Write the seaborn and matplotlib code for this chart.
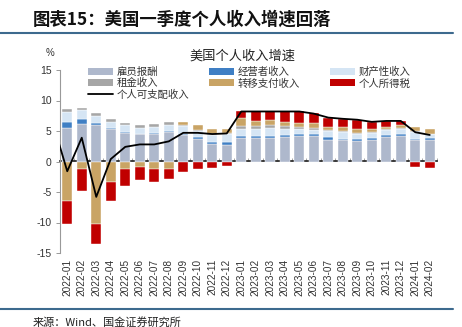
import numpy as np
import pandas as pd
import matplotlib
matplotlib.use("Agg")
import matplotlib.pyplot as plt
from matplotlib.patches import Patch
from matplotlib.lines import Line2D
import seaborn as sns

months = ["2022-01", "2022-02", "2022-03", "2022-04", "2022-05", "2022-06", "2022-07",
          "2022-08", "2022-09", "2022-10", "2022-11", "2022-12", "2023-01", "2023-02",
          "2023-03", "2023-04", "2023-05", "2023-06", "2023-07", "2023-08", "2023-09",
          "2023-10", "2023-11", "2023-12", "2024-01", "2024-02"]

# contributions (percentage points)
compensation = [5.55, 6.2, 5.98, 5.32, 4.73, 4.45, 4.55, 4.9, 4.3, 3.7, 2.9, 2.7, 3.8, 3.8,
                3.85, 4.0, 4.2, 4.2, 3.6, 3.45, 3.35, 3.6, 4.0, 4.15, 3.45, 3.5]
proprietors = [0.92, 0.82, 0.33, 0.1, 0.05, 0.05, 0.05, 0.1, 0.2, 0.3, 0.35, 0.5, 0.35, 0.4,
               0.35, 0.35, 0.3, 0.3, 0.35, 0.3, 0.3, 0.3, 0.3, 0.4, 0.3, 0.4]
property_inc = [1.71, 1.37, 1.2, 1.05, 1.2, 0.95, 1.1, 1.05, 1.3, 0.95, 1.05, 1.3, 1.1, 1.18,
                1.24, 1.04, 0.77, 0.66, 1.0, 1.08, 0.93, 0.78, 0.9, 0.72, 1.08, 0.55]
rental = [0.38, 0.33, 0.38, 0.45, 0.4, 0.6, 0.5, 0.45, 0.25, 0.2, 0.2, 0.2, 0.55, 0.5,
          0.54, 0.43, 0.45, 0.39, 0.15, 0.17, 0.15, 0.15, 0.1, 0.28, 0.17, 0.1]
transfers = [-6.4, -1.15, -10.3, -3.4, -1.3, -0.95, -1.2, -1.15, 0.4, 0.85, 0.9, 0.7, 1.25, 0.72,
             0.82, 0.72, 0.66, 0.71, 0.58, 0.65, 0.66, 0.44, 0.35, 0.38, 0.65, 0.85]
taxes = [-3.9, -3.65, -3.3, -3.0, -2.65, -2.15, -2.15, -1.8, -1.75, -1.3, -1.0, -0.7, 1.15, 1.6,
         1.4, 1.66, 1.82, 1.64, 1.48, 1.25, 1.36, 1.18, 1.0, 0.72, -0.95, -1.1]
disposable = [-1.6, 3.9, -5.8, 0.4, 2.4, 2.8, 2.8, 3.3, 4.7, 4.7, 4.5, 4.6, 8.2, 8.2,
              8.2, 8.2, 8.2, 7.85, 7.2, 7.0, 6.85, 6.5, 6.65, 6.65, 4.8, 4.35]
disposable_prev = 6.4  # 2021-12, only its segment into the plot is visible

series_names = ["雇员报酬", "经营者收入", "财产性收入", "租金收入", "转移支付收入", "个人所得税"]
series_vals = [compensation, proprietors, property_inc, rental, transfers, taxes]
series_colors = ["#AEB8CC", "#3F7FC4", "#D5E5F4", "#A6A6A6", "#C9A465", "#C00000"]
line_name = "个人可支配收入"
yticks = [-15, -10, -5, 0, 5, 10, 15]

sns.set_theme(style="white")
plt.rcParams["font.family"] = ["Noto Sans CJK SC", "DejaVu Sans"]
plt.rcParams["axes.unicode_minus"] = False

fig = plt.figure(figsize=(4.62, 3.27), dpi=100)
ax = fig.add_axes([60 / 462, 1 - 253 / 327, 377 / 462, 183 / 327])

x = np.arange(len(months))
pos_base = np.zeros(len(months))
neg_base = np.zeros(len(months))
for name, vals, col in zip(series_names, series_vals, series_colors):
    v = np.array(vals, dtype=float)
    bottom = np.where(v >= 0, pos_base, neg_base)
    ax.bar(x, v, bottom=bottom, width=0.7, color=col, edgecolor="white",
           linewidth=0.3, zorder=2)
    pos_base = pos_base + np.where(v >= 0, v, 0)
    neg_base = neg_base + np.where(v < 0, v, 0)

line_df = pd.DataFrame({"x": np.concatenate([[-1], x]),
                        "y": [disposable_prev] + disposable})
sns.lineplot(data=line_df, x="x", y="y", color="black", linewidth=1.3, ax=ax,
             zorder=4, legend=False)

ax.set_xlim(-0.5, len(months) - 0.5)
ax.set_ylim(-15, 15)
ax.set_yticks(yticks)
ax.set_yticklabels([str(t) for t in yticks], fontsize=7.5, family="Liberation Sans",
                   color="#333333")
ax.set_xticks(x)
ax.set_xticklabels(months, rotation=90, fontsize=7.2, family="Liberation Sans",
                   color="#333333")
ax.tick_params(axis="x", length=0, pad=4)
ax.tick_params(axis="y", length=3, width=0.7, color="#999999", direction="out", pad=3, left=True)
for s in ["top", "right", "bottom"]:
    ax.spines[s].set_visible(False)
ax.spines["left"].set_color("#999999")
ax.spines["left"].set_linewidth(0.8)
ax.set_xlabel("")
ax.set_ylabel("")
ax.grid(False)

sec = ax.secondary_xaxis(0.5)
sec.set_xticks(np.arange(-0.5, len(months), 1))
sec.set_xticklabels([])
sec.tick_params(axis="x", length=2.5, width=0.6, color="#999999", direction="out")
sec.spines["bottom"].set_color("#999999")
sec.spines["bottom"].set_linewidth(0.8)

# legends (three columns)
handles = {n: Patch(facecolor=c, edgecolor="none") for n, c in zip(series_names, series_colors)}
handles[line_name] = Line2D([0], [0], color="black", linewidth=1.3)
cols = [([series_names[0], series_names[3], line_name], 88),
        ([series_names[1], series_names[4]], 209),
        ([series_names[2], series_names[5]], 330)]
for names, px in cols:
    leg = fig.legend([handles[n] for n in names], names, loc="upper left",
                     bbox_to_anchor=(px / 462, 1 - 67 / 327), frameon=False,
                     fontsize=7.5, handlelength=2.4, handleheight=0.65,
                     handletextpad=0.35, labelspacing=0.12, borderpad=0,
                     borderaxespad=0)
    for t in leg.get_texts():
        t.set_color("#333333")

fig.text(242 / 462, 1 - 56 / 327, "美国个人收入增速", ha="center", va="center",
         fontsize=9.5, color="#222222")
fig.text(50 / 462, 1 - 53 / 327, "%", ha="center", va="center", fontsize=7,
         family="Liberation Sans", color="#333333")

fig.text(33 / 462, 1 - 20 / 327, "图表15：美国一季度个人收入增速回落", ha="left",
         va="center", fontsize=12.5, fontweight="bold", color="#111111")
fig.add_artist(Line2D([0, 453 / 462], [1 - 33 / 327, 1 - 33 / 327],
                      transform=fig.transFigure, color="#3D6A8E", linewidth=1.5))
fig.add_artist(Line2D([0, 453 / 462], [1 - 309 / 327, 1 - 309 / 327],
                      transform=fig.transFigure, color="#3D6A8E", linewidth=1.5))
fig.text(33 / 462, 1 - 322 / 327, "来源：Wind、国金证券研究所", ha="left", va="center",
         fontsize=8, color="#222222")

fig.savefig("out.png", dpi=100)
